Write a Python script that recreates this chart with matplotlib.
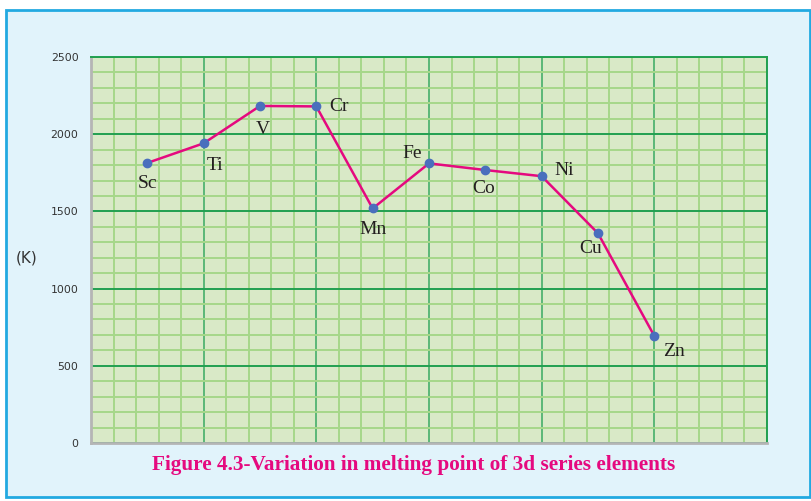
import matplotlib.pyplot as plt
from matplotlib.patches import Rectangle
from matplotlib.ticker import MultipleLocator

# melting points of the 3d series (K)
elements = ["Sc", "Ti", "V", "Cr", "Mn", "Fe", "Co", "Ni", "Cu", "Zn"]
positions = [1, 2, 3, 4, 5, 6, 7, 8, 9, 10]
melting_k = [1814, 1941, 2183, 2180, 1519, 1811, 1768, 1728, 1358, 693]
y_ticks = [0, 500, 1000, 1500, 2000, 2500]

# label offsets in points (dx, dy)
label_offsets = {
    "Sc": (0, -15), "Ti": (8, -16), "V": (2, -17), "Cr": (16, 0),
    "Mn": (0, -15), "Fe": (-12, 7), "Co": (-1, -13), "Ni": (16, 4),
    "Cu": (-5, -11), "Zn": (14, -11),
}

fig = plt.figure(figsize=(8.12, 5.01), dpi=100)
fig.patch.set_facecolor("white")
frame = Rectangle((6 / 812, 4 / 501), 804 / 812, 487 / 501,
                  transform=fig.transFigure, facecolor="#e1f3fb",
                  edgecolor="#22a9e1", linewidth=2, zorder=-5)
fig.patches.append(frame)

ax = fig.add_axes([91 / 812, 1 - 443 / 501, 676 / 812, 386 / 501])
ax.set_facecolor("#d9e9c7")
ax.set_xlim(0, 12)
ax.set_ylim(0, 2500)

ax.xaxis.set_major_locator(MultipleLocator(2))
ax.xaxis.set_minor_locator(MultipleLocator(0.4))
ax.set_yticks(y_ticks)
ax.yaxis.set_minor_locator(MultipleLocator(100))

ax.grid(which="minor", color="#a6d78a", linewidth=1.4)
ax.grid(which="major", axis="x", color="#5bb777", linewidth=1.4)
ax.grid(which="major", axis="y", color="#21a050", linewidth=1.4)
ax.set_axisbelow(True)

ax.tick_params(which="both", length=0)
ax.tick_params(axis="x", labelbottom=False)
ax.tick_params(axis="y", labelsize=7.8, labelcolor="#333333", pad=9)

for side in ["left", "bottom"]:
    ax.spines[side].set_color("#b5b5b5")
    ax.spines[side].set_linewidth(2)
for side in ["top", "right"]:
    ax.spines[side].set_color("#21a050")
    ax.spines[side].set_linewidth(1.4)

ax.plot(positions, melting_k, color="#e5097f", linewidth=1.8, zorder=3,
        marker="o", markersize=6, markerfacecolor="#4a6fbd",
        markeredgecolor="#4a6fbd", clip_on=False)

for name, x, y in zip(elements, positions, melting_k):
    dx, dy = label_offsets[name]
    ax.annotate(name, (x, y), xytext=(dx, dy), textcoords="offset points",
                ha="center", va="center", fontsize=14,
                family="Liberation Serif", color="#231f20", zorder=4)

fig.text(27 / 812, 1 - 258 / 501, "(K)", ha="center", va="center",
         fontsize=11, color="#333333")
fig.text(414 / 812, 1 - 465 / 501,
         "Figure 4.3-Variation in melting point of 3d series elements",
         ha="center", va="center", fontsize=15.3, fontweight="bold",
         family="Liberation Serif", color="#e5097f")

fig.savefig("out.png", dpi=100)
